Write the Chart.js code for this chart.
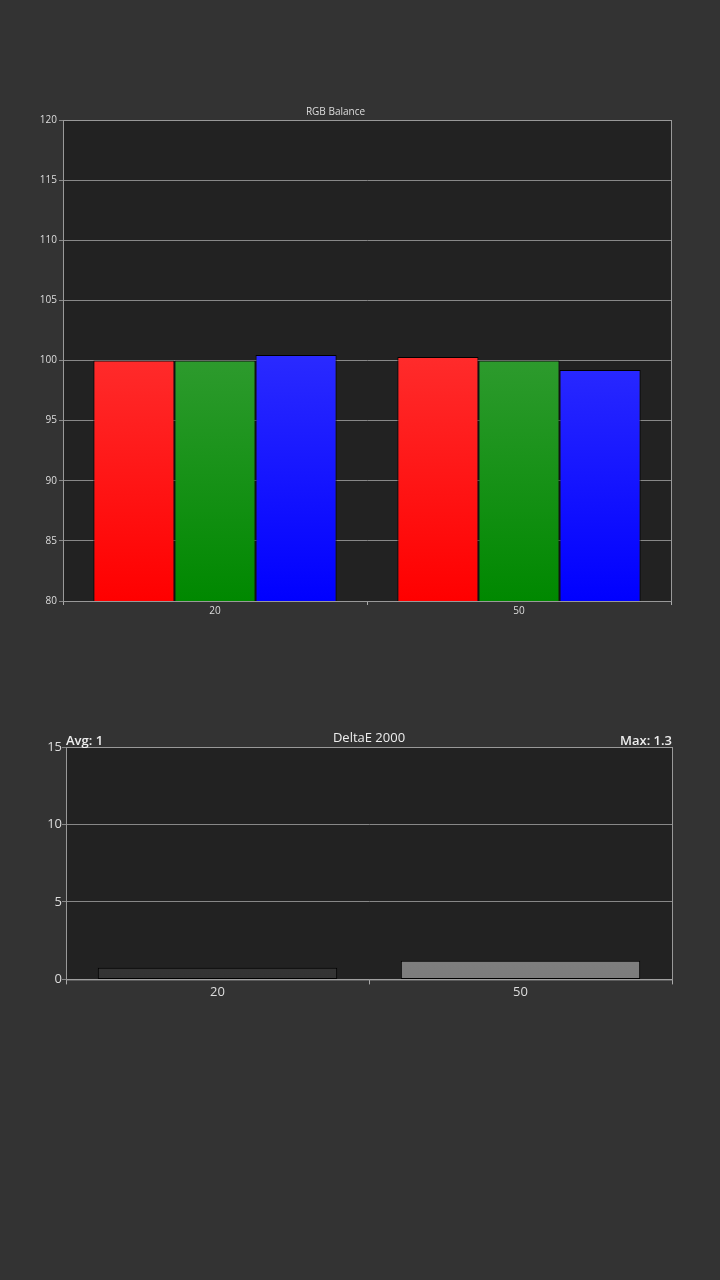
<!DOCTYPE html>
<html><head><meta charset="utf-8">
<script src="https://cdn.jsdelivr.net/npm/chart.js@4"></script>
<style>
body{margin:0;background:#333333;width:720px;height:1280px;overflow:hidden;font-family:"Open Sans",sans-serif}
.box{position:absolute;left:0;width:720px}
</style></head><body>
<div class="box" style="top:100px;height:517px"><canvas id="rgb"></canvas></div>
<div class="box" style="top:725px;height:275px"><canvas id="de"></canvas></div>
<script>
const categories = ['20', '50']
const redVals = [100.0, 100.3]
const greenVals = [100.0, 100.0]
const blueVals = [100.45, 99.2]
const deltaVals = [0.75, 1.2]
const avgText = 'Avg: 1'
const maxText = 'Max: 1.3'

function grad(top, bottom){
    return function(ctx){
        const a = ctx.chart.chartArea
        if(!a) return bottom
        const g = ctx.chart.ctx.createLinearGradient(0, a.top, 0, a.bottom)
        g.addColorStop(0, top)
        g.addColorStop(1, bottom)
        return g
    }
}

const plotBg = {
    id: 'plotBg',
    beforeDraw(chart){
        const a = chart.chartArea, c = chart.ctx
        c.save(); c.fillStyle = '#222222'
        c.fillRect(a.left, a.top, a.right - a.left, a.bottom - a.top)
        c.restore()
    },
    afterDraw(chart){
        const a = chart.chartArea, c = chart.ctx
        c.save(); c.strokeStyle = '#999'; c.lineWidth = 1
        c.strokeRect(a.left + 0.5, a.top + 0.5, a.right - a.left, a.bottom - a.top)
        c.restore()
    }
}

Chart.defaults.font.family = '"Open Sans", sans-serif'
Chart.defaults.color = '#dddddd'

new Chart(document.getElementById('rgb'), {
    type: 'bar',
    data: {
        labels: categories,
        datasets: [
            {data: redVals, backgroundColor: grad('#ff5555', '#ff0000')},
            {data: greenVals, backgroundColor: grad('#5aad5a', '#008800')},
            {data: blueVals, backgroundColor: grad('#5252ff', '#0000ff')},
        ].map(d => Object.assign(d, {borderColor: '#000', borderWidth: 1, borderSkipped: false, categoryPercentage: 0.8, barPercentage: 1}))
    },
    options: {
        responsive: true, maintainAspectRatio: false, animation: false,
        layout: {padding: {top: 6, right: 49, bottom: 0, left: 0}},
        plugins: {legend: {display: false}, tooltip: {enabled: false},
            title: {display: true, text: 'RGB Balance', color: '#dddddd', font: {size: 10, weight: 'normal'}, padding: {top: 0, bottom: 2}}},
        scales: {
            x: {grid: {display: true, drawOnChartArea: false, color: '#aaa', tickLength: 4, offset: true},
                border: {color: '#aaa'}, ticks: {font: {size: 10}, color: '#dddddd', padding: 0}},
            y: {min: 80, max: 120, afterFit: s => { s.width = 63 },
                grid: {color: '#888', tickLength: 4}, border: {color: '#aaa'},
                ticks: {stepSize: 5, font: {size: 10}, color: '#dddddd', padding: 2}}
        }
    },
    plugins: [plotBg]
})

const deText = {
    id: 'deText',
    afterDraw(chart){
        const a = chart.chartArea, c = chart.ctx
        c.save(); c.fillStyle = '#eeeeee'; c.font = '600 13px "Open Sans", sans-serif'
        c.textBaseline = 'bottom'
        c.textAlign = 'left'; c.fillText(avgText, 66, a.top + 1)
        c.textAlign = 'right'; c.fillText(maxText, a.right, a.top + 1)
        c.font = '13px "Open Sans", sans-serif'
        c.textAlign = 'center'; c.fillText('DeltaE 2000', (a.left + a.right) / 2, a.top - 2)
        c.restore()
    }
}

const deTops = ['#4a4a4a', '#9a9a9a']
const deBottoms = ['#333333', '#7c7c7c']

new Chart(document.getElementById('de'), {
    type: 'bar',
    data: {
        labels: categories,
        datasets: [{
            data: deltaVals,
            backgroundColor: ctx => grad(deTops[ctx.dataIndex], deBottoms[ctx.dataIndex])(ctx),
            borderColor: '#000', borderWidth: 1, borderSkipped: false,
            categoryPercentage: 0.79, barPercentage: 1
        }]
    },
    options: {
        responsive: true, maintainAspectRatio: false, animation: false,
        layout: {padding: {top: 22, right: 48, bottom: 0, left: 0}},
        plugins: {legend: {display: false}, tooltip: {enabled: false}},
        scales: {
            x: {grid: {display: true, drawOnChartArea: false, color: '#aaa', tickLength: 5, offset: true},
                border: {color: '#aaa'}, ticks: {font: {size: 13}, color: '#dddddd', padding: 0}},
            y: {min: 0, max: 15, afterFit: s => { s.width = 66 },
                grid: {color: '#888', tickLength: 4}, border: {color: '#aaa'},
                ticks: {stepSize: 5, font: {size: 13}, color: '#dddddd', padding: 0}}
        }
    },
    plugins: [plotBg, deText]
})
</script>
</body></html>
